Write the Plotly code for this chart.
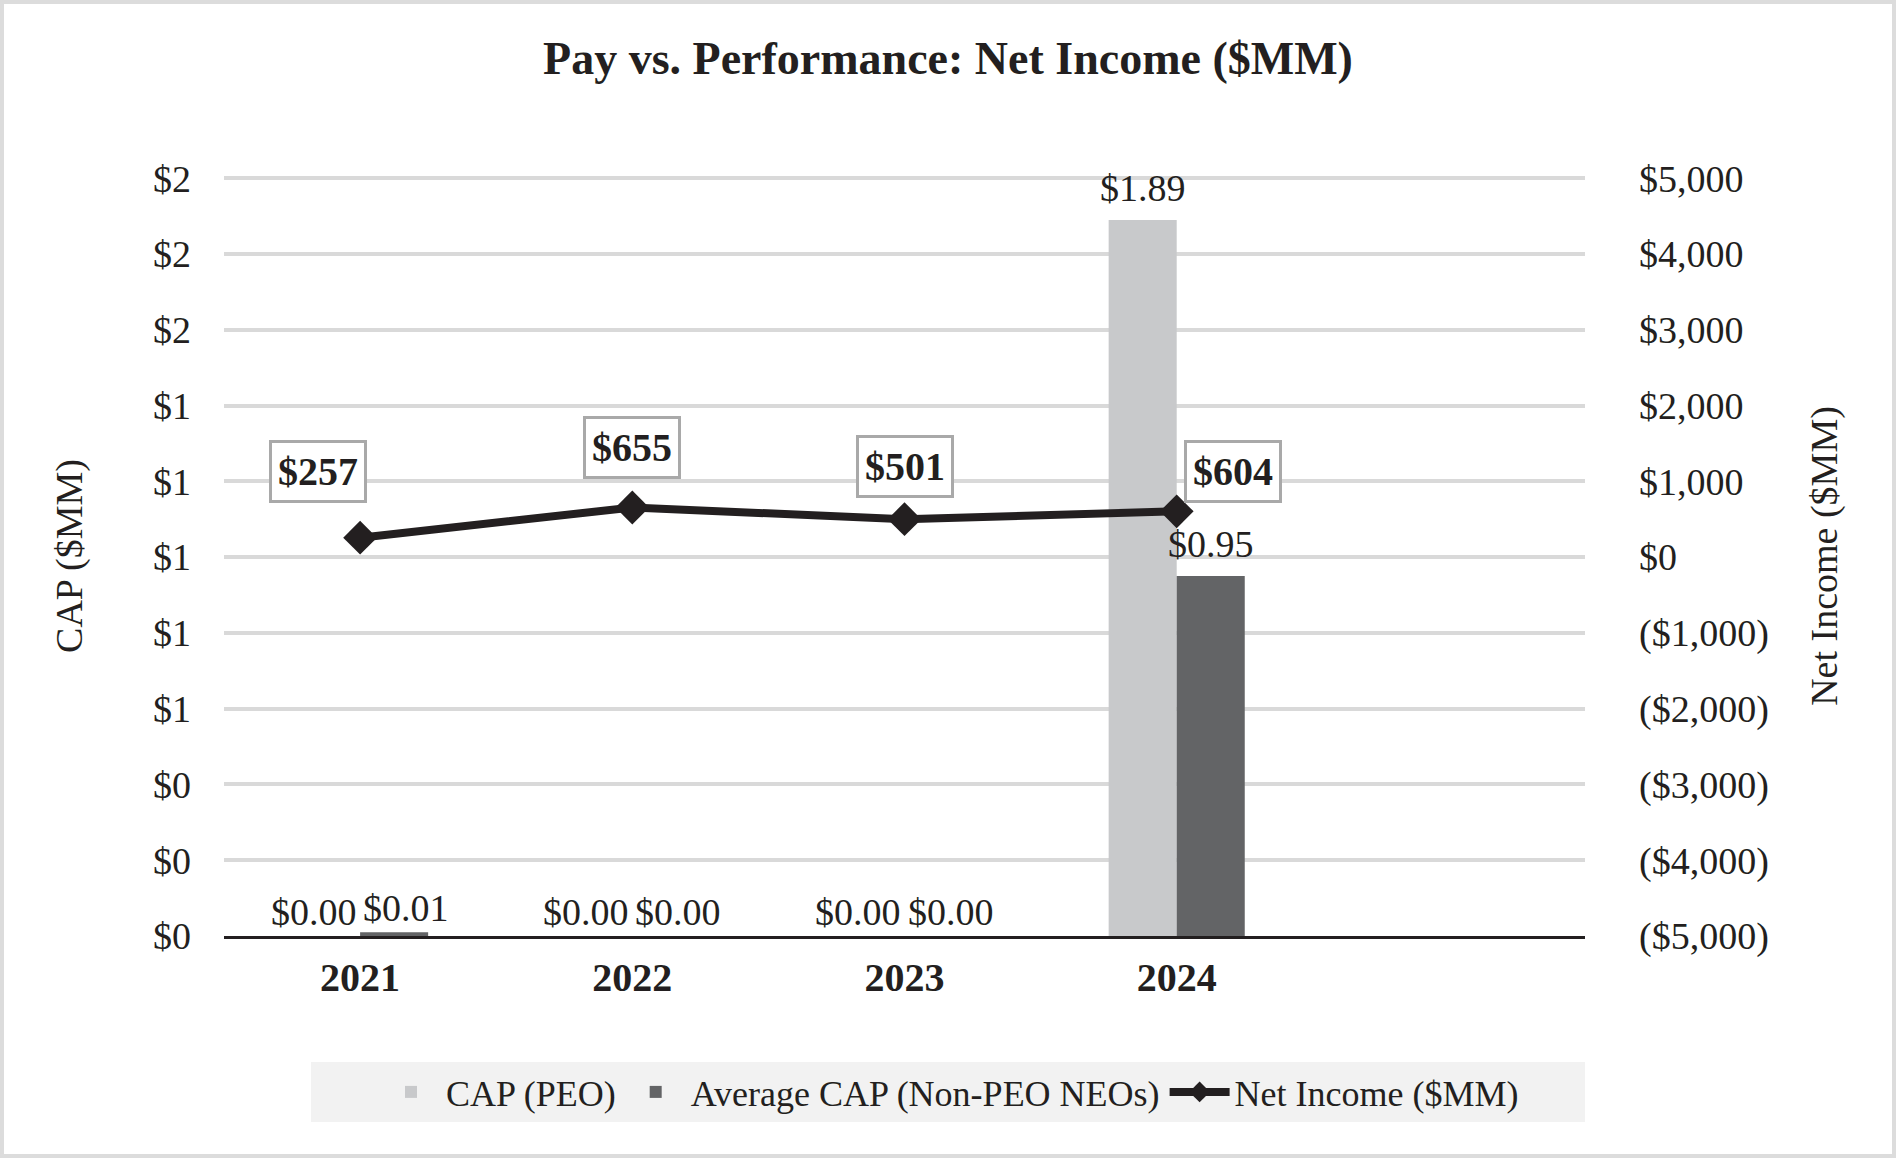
import plotly.graph_objects as go

# ---- data ----
years = ["2021", "2022", "2023", "2024"]
cap_peo = [0.00, 0.00, 0.00, 1.89]
avg_cap_neo = [0.01, 0.00, 0.00, 0.95]
net_income = [257, 655, 501, 604]
y1_ticks = [0.0, 0.2, 0.4, 0.6, 0.8, 1.0, 1.2, 1.4, 1.6, 1.8, 2.0]
y2_ticks = [-5000, -4000, -3000, -2000, -1000, 0, 1000, 2000, 3000, 4000, 5000]

FONT = "Liberation Serif"
TXT = "#231f20"
BAR_W = 0.25  # width of one bar, in category units
HEADROOM = 0.003  # fraction of range kept above the top gridline so it is drawn


def money(v):
    s = "${:,.0f}".format(abs(v))
    return "(" + s + ")" if v < 0 else s


y1_text = ["${:.0f}".format(v) for v in y1_ticks]
y2_text = [money(v) for v in y2_ticks]

fig = go.Figure()
fig.add_trace(go.Bar(
    x=years, y=cap_peo, name="CAP (PEO)",
    marker=dict(color="#c8c9cb", line=dict(width=0)),
))
fig.add_trace(go.Bar(
    x=years, y=avg_cap_neo, name="Average CAP (Non-PEO NEOs)",
    marker=dict(color="#636466", line=dict(width=0)),
))
fig.add_trace(go.Scatter(
    x=years, y=net_income, name="Net Income ($MM)", yaxis="y2",
    mode="lines+markers",
    line=dict(color=TXT, width=8),
    marker=dict(symbol="diamond", size=26, color=TXT),
    cliponaxis=False,
))

# bar value labels (small values nudged apart so they do not collide)
for i, (a, b) in enumerate(zip(cap_peo, avg_cap_neo)):
    small = max(a, b) < 0.1
    for val, side in ((a, -1), (b, 1)):
        fig.add_annotation(
            x=i + side * BAR_W / 2, y=val, xref="x", yref="y",
            text="${:.2f}".format(val), showarrow=False,
            xshift=side * (12 if small else 0), yshift=24 if small else 32,
            font=dict(family=FONT, size=38, color=TXT),
        )

# net income labels (boxed)
label_shift = [(-42, 66), (0, 60), (0, 53), (56, 40)]
for i, (v, (dx, dy)) in enumerate(zip(net_income, label_shift)):
    fig.add_annotation(
        x=i, y=v, xref="x", yref="y2", text="<b>" + money(v) + "</b>",
        showarrow=False, xshift=dx, yshift=dy,
        font=dict(family=FONT, size=40, color=TXT),
        bgcolor="white", bordercolor="#a9a9a9", borderwidth=3, borderpad=6,
    )

# plot-area geometry in page pixels
L, R, T, B, W, H = 224, 1585, 176, 936, 1896, 1158
PW, PH = R - L, B - T

# legend background and outer frame
fig.add_shape(type="rect", xref="paper", yref="paper",
              x0=(311 - L) / PW, x1=(1585 - L) / PW,
              y0=(B - 1062) / PH, y1=(B - 1122) / PH,
              fillcolor="#f2f2f2", line=dict(width=0), layer="below")
fig.add_shape(type="rect", xref="paper", yref="paper",
              x0=(2 - L) / PW, x1=(W - 2 - L) / PW,
              y0=(B - (H - 2)) / PH, y1=(B - 2) / PH,
              fillcolor="rgba(0,0,0,0)", line=dict(width=4, color="#dcdcdc"),
              layer="below")

y1_span = y1_ticks[-1] - y1_ticks[0]
y2_span = y2_ticks[-1] - y2_ticks[0]

fig.update_layout(
    width=W, height=H,
    margin=dict(l=L, r=W - R, t=T, b=H - B),
    paper_bgcolor="white", plot_bgcolor="white",
    font=dict(family=FONT, size=38, color=TXT),
    title=dict(text="<b>Pay vs. Performance: Net Income ($MM)</b>",
               x=0.5, xref="container", y=1 - 58 / H, yref="container",
               yanchor="middle", font=dict(family=FONT, size=46, color=TXT)),
    barmode="group", bargap=0.5, bargroupgap=0,
    xaxis=dict(type="category", categoryorder="array", categoryarray=years,
               range=[-0.5, 4.5], showgrid=False, showline=True,
               linecolor=TXT, linewidth=3, ticks="", zeroline=False,
               tickfont=dict(family=FONT, size=40, color=TXT, weight="bold"),
               ticklabelstandoff=4),
    yaxis=dict(range=[y1_ticks[0], y1_ticks[-1] + HEADROOM * y1_span],
               tickmode="array", tickvals=y1_ticks, ticktext=y1_text,
               showgrid=True, gridcolor="#d9d9d9", gridwidth=4, zeroline=False,
               showline=False, ticks="", ticklabelstandoff=32,
               tickfont=dict(family=FONT, size=38, color=TXT),
               title=dict(text="CAP ($MM)", standoff=58,
                          font=dict(family=FONT, size=38, color=TXT))),
    yaxis2=dict(overlaying="y", side="right",
                range=[y2_ticks[0], y2_ticks[-1] + HEADROOM * y2_span],
                tickvals=y2_ticks, ticktext=y2_text, showgrid=False,
                zeroline=False, showline=False, ticks="", ticklabelstandoff=53,
                tickfont=dict(family=FONT, size=38, color=TXT),
                title=dict(text="Net Income ($MM)", standoff=42,
                           font=dict(family=FONT, size=38, color=TXT))),
    showlegend=True,
    legend=dict(orientation="h", x=(950 - L) / PW, xanchor="center",
                y=(B - 1092) / PH, yanchor="middle",
                bgcolor="rgba(0,0,0,0)", font=dict(family=FONT, size=36, color=TXT),
                traceorder="normal", itemwidth=60),
)

fig.write_html("out.html", config={"displayModeBar": False},
               post_script="document.body.style.margin='0px';")
